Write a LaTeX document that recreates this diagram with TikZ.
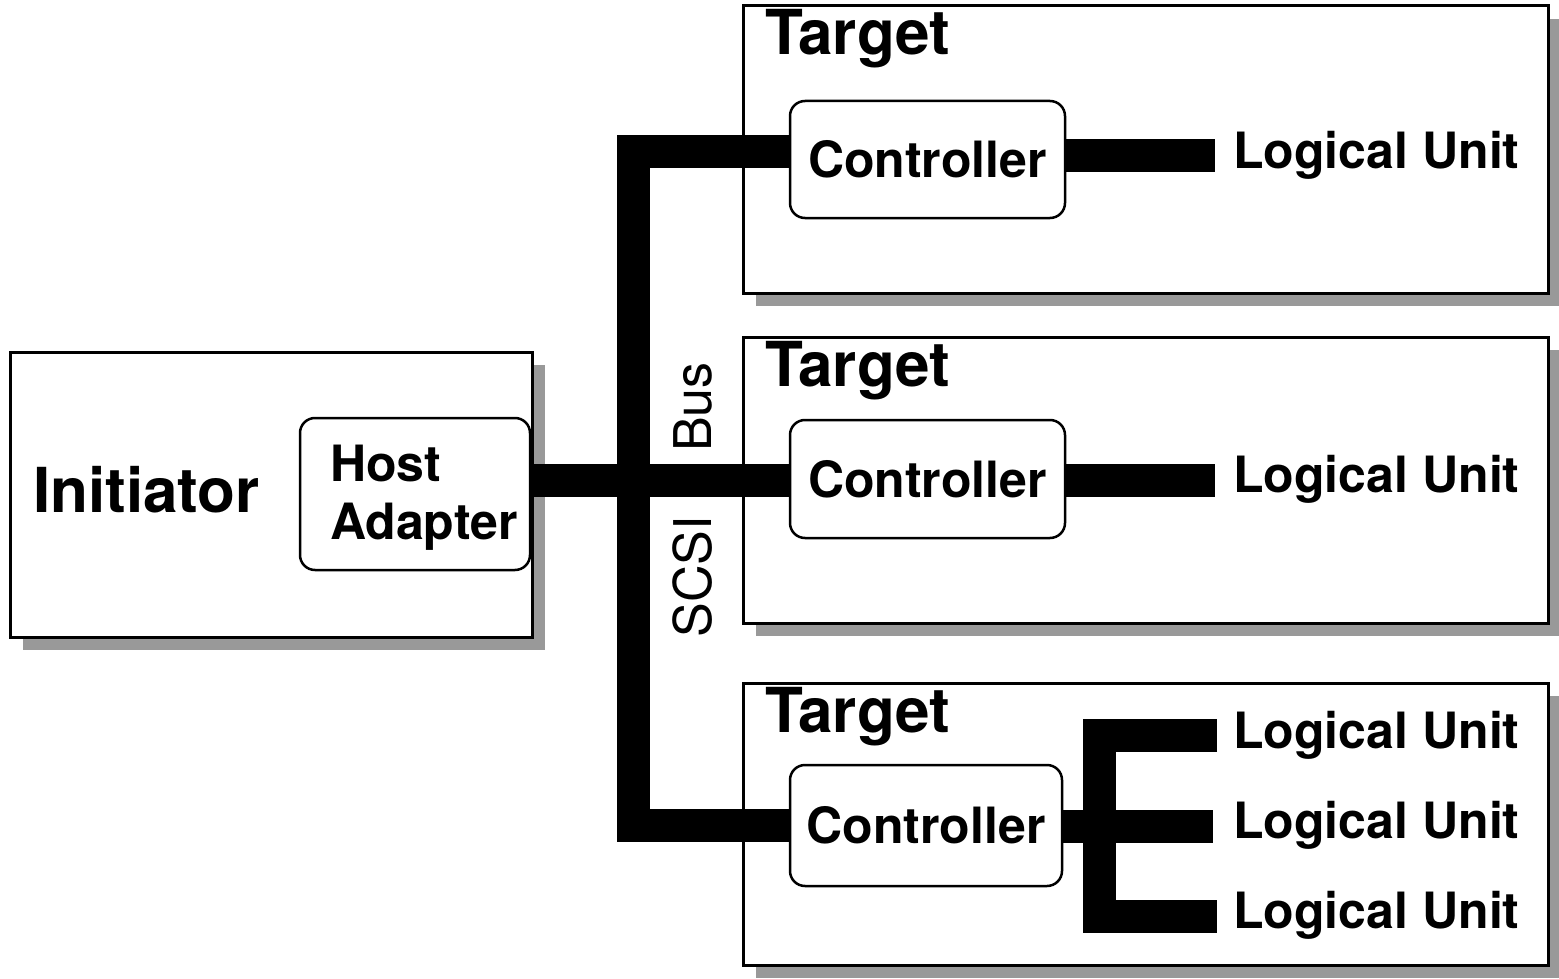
\documentclass[tikz,border=0pt]{standalone}
\usepackage{fontspec}
\setmainfont{TeX Gyre Heros}
\usetikzlibrary{shadows}

\begin{document}
\begin{tikzpicture}[x=1pt, y=-1pt,
  outerbox/.style={draw, line width=3pt, fill=white, inner sep=0pt, outer sep=0pt,
    drop shadow={shadow xshift=13pt, shadow yshift=-13pt, fill=black!40, opacity=1}},
  roundbox/.style={draw, line width=2.5pt, fill=white, rounded corners=15pt,
    inner sep=0pt, outer sep=0pt, font=\fontsize{50}{58}\selectfont\bfseries},
  bus/.style={line width=33pt, line join=miter, line cap=butt},
  lbl/.style={font=\fontsize{50}{58}\selectfont\bfseries, inner sep=0pt},
  buslabel/.style={font=\fontsize{52}{60}\selectfont, inner sep=0pt, rotate=90},
  biglbl/.style={font=\fontsize{62}{72}\selectfont\bfseries, inner sep=0pt}]

\useasboundingbox (0,0) rectangle (1559,979);

% Initiator with its host adapter
\node[outerbox, minimum width=522pt, minimum height=285pt] (init) at (271,494.5) {};
\node[biglbl, anchor=base west] (inittxt) at (33,512) {Initiator};
\node[roundbox, minimum width=230pt, minimum height=152pt] (ha) at (415,494) {};
\node[lbl, align=left, anchor=north west] (hatxt) at (330,445) {Host\\Adapter};

% Target enclosures
\node[outerbox, minimum width=805pt, minimum height=287pt] (t1) at (1145.5,149.5) {};
\node[outerbox, minimum width=805pt, minimum height=286pt] (t2) at (1145.5,480) {};
\node[outerbox, minimum width=805pt, minimum height=282pt] (t3) at (1145.5,824) {};
\node[biglbl, anchor=base west] (t1lbl) at (765,55) {Target};
\node[biglbl, anchor=base west] (t2lbl) at (765,386) {Target};
\node[biglbl, anchor=base west] (t3lbl) at (765,732) {Target};

% Controllers
\node[roundbox, minimum width=275pt, minimum height=117pt] (c1) at (927.5,159.5) {Controller};
\node[roundbox, minimum width=275pt, minimum height=118pt] (c2) at (927.5,479) {Controller};
\node[roundbox, minimum width=272pt, minimum height=121pt] (c3) at (926,825.5) {Controller};

% SCSI bus
\coordinate (j1) at (633,151.5);
\coordinate (j2) at (633,480);
\coordinate (j3) at (633,825.5);
\draw[bus] (c1.west |- j1) -- (j1) -- (j3) -- (c3.west |- j3);
\draw[bus] (ha.east |- j2) -- (c2.west |- j2);
\node[buslabel, anchor=base west] (buslbl) at (711,452) {Bus};
\node[buslabel, anchor=base east] (scsilbl) at (711,516) {SCSI};

% Links from controllers to logical units
\coordinate (u1) at (1215,156);
\coordinate (u2) at (1215,480);
\coordinate (u3) at (1217,735.5);
\coordinate (u4) at (1213,826.5);
\coordinate (u5) at (1217,916);
\draw[bus] (c1.east |- u1) -- (u1);
\draw[bus] (c2.east |- u2) -- (u2);
\draw[bus] (u3) -- ++(-118,0) |- (u5);
\draw[bus] (c3.east |- u4) -- (u4);

% Logical units
\node[lbl, anchor=base west] (lu1) at (1233,168) {Logical Unit};
\node[lbl, anchor=base west] (lu2) at (1233,492) {Logical Unit};
\node[lbl, anchor=base west] (lu3) at (1233,748) {Logical Unit};
\node[lbl, anchor=base west] (lu4) at (1233,838) {Logical Unit};
\node[lbl, anchor=base west] (lu5) at (1233,928) {Logical Unit};
\end{tikzpicture}
\end{document}
